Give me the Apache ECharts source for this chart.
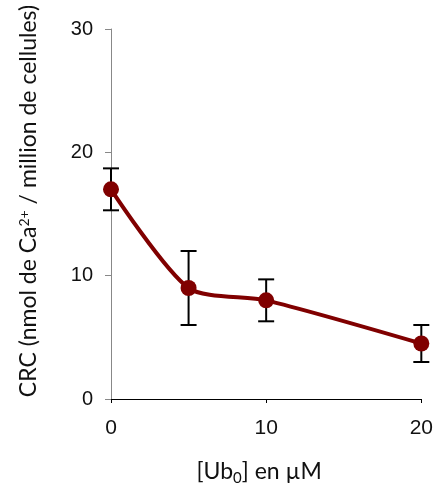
<!DOCTYPE html>
<html>
<head>
<meta charset="utf-8">
<script src="https://cdn.jsdelivr.net/npm/echarts@6/dist/echarts.min.js"></script>
<style>
  html, body { margin: 0; padding: 0; background: #fff; }
  #chart { width: 436px; height: 491px; }
</style>
</head>
<body>
<div id="chart"></div>
<script>
// Ubiquinone concentration (µM) and calcium retention capacity
const concentrations = [0, 5, 10, 20];
const crcMeans = [17, 9, 8, 4.5];
const crcErrors = [1.7, 3, 1.7, 1.5];
const xTickStep = 10;
const yTickStep = 10;
const xRange = [0, 20];
const yRange = [0, 30];

const lineColor = '#800000';
const tickFont = 'Liberation Sans, Arial, sans-serif';
const titleFont = 'Lato, Open Sans, sans-serif';

const meanPoints = concentrations.map((x, i) => [x, crcMeans[i]]);
const errorRows = concentrations.map((x, i) => [x, crcMeans[i] - crcErrors[i], crcMeans[i] + crcErrors[i]]);

const chart = echarts.init(document.getElementById('chart'), null, { renderer: 'canvas' });

chart.setOption({
  animation: false,
  backgroundColor: '#fff',
  grid: { left: 111, right: 12, top: 29, bottom: 90, containLabel: false },
  xAxis: {
    type: 'value',
    min: xRange[0], max: xRange[1], interval: xTickStep,
    splitLine: { show: false },
    axisLine: { show: true, lineStyle: { color: '#000', width: 1 } },
    axisTick: { show: true, length: 4, lineStyle: { color: '#000' } },
    axisLabel: { color: '#111', fontFamily: tickFont, fontSize: 21, margin: 19 },
    name: '[Ub{sub|0}] en µM',
    nameLocation: 'middle',
    nameGap: 58,
    nameTextStyle: {
      color: '#111', fontFamily: titleFont, fontSize: 23, padding: [0, 14, 0, 0],
      rich: {
        sub: { fontFamily: titleFont, fontSize: 15, verticalAlign: 'bottom', padding: [14, 0, 0, 0], color: '#111' }
      }
    }
  },
  yAxis: {
    type: 'value',
    min: yRange[0], max: yRange[1], interval: yTickStep,
    splitLine: { show: false },
    axisLine: { show: true, lineStyle: { color: '#888', width: 1 } },
    axisTick: { show: true, length: 6, lineStyle: { color: '#888' } },
    axisLabel: { color: '#111', fontFamily: tickFont, fontSize: 20, margin: 18 },
    name: 'CRC (nmol de Ca{sup|2+} / million de cellules)',
    nameLocation: 'middle',
    nameGap: 70,
    nameTextStyle: {
      color: '#111', fontFamily: titleFont, fontSize: 23, padding: [0, 0, 0, 26],
      rich: {
        sup: { fontFamily: titleFont, fontSize: 14, verticalAlign: 'top', padding: [0, 0, 10, 0], color: '#111' }
      }
    }
  },
  series: [
    {
      type: 'custom',
      name: 'erreur',
      z: 2,
      clip: false,
      data: errorRows,
      renderItem: function (params, api) {
        const x = api.value(0);
        const lo = api.coord([x, api.value(1)]);
        const hi = api.coord([x, api.value(2)]);
        const half = 8;
        const style = { stroke: '#000', lineWidth: 2 };
        return {
          type: 'group',
          children: [
            { type: 'line', shape: { x1: lo[0], y1: lo[1], x2: hi[0], y2: hi[1] }, style },
            { type: 'line', shape: { x1: hi[0] - half, y1: hi[1], x2: hi[0] + half, y2: hi[1] }, style },
            { type: 'line', shape: { x1: lo[0] - half, y1: lo[1], x2: lo[0] + half, y2: lo[1] }, style }
          ]
        };
      }
    },
    {
      type: 'line',
      name: 'CRC',
      z: 3,
      clip: false,
      data: meanPoints,
      smooth: 0.25,
      symbol: 'circle',
      symbolSize: 16,
      lineStyle: { color: lineColor, width: 4 },
      itemStyle: { color: lineColor, borderWidth: 0 }
    }
  ]
});
</script>
</body>
</html>
